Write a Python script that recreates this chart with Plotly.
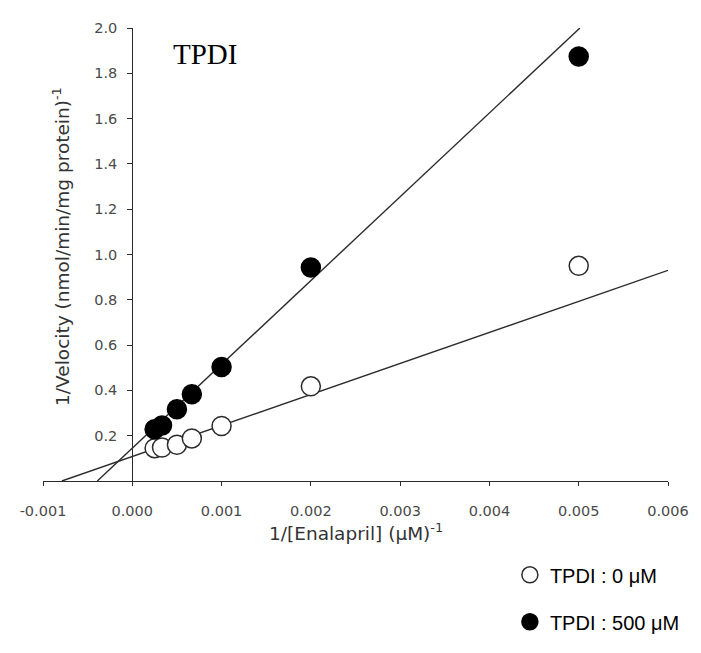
import plotly.graph_objects as go

# ---- data ----
inv_s = [0.00025, 0.000333, 0.0005, 0.000667, 0.001, 0.002, 0.005]   # 1/[Enalapril]
inv_v_0 = [0.145, 0.148, 0.160, 0.188, 0.243, 0.418, 0.950]        # TPDI 0 uM
inv_v_500 = [0.228, 0.245, 0.317, 0.383, 0.503, 0.943, 1.874]      # TPDI 500 uM
series_names = ["TPDI : 0 μM", "TPDI : 500 μM"]
fit_slope = [137.0, 370.0]
fit_intercept = [0.108, 0.145]

x_ticks = [-0.001, 0.0, 0.001, 0.002, 0.003, 0.004, 0.005, 0.006]
y_ticks = [0.2, 0.4, 0.6, 0.8, 1.0, 1.2, 1.4, 1.6, 1.8, 2.0]
x_range = [-0.001, 0.006]
y_range = [0.0, 2.0]

LINE = "#2b2b2b"
TICKFONT = dict(family="DejaVu Sans", size=14.5, color="#4a4a4a")

fig = go.Figure()

# regression lines, from x-intercept to the edge of the plot
for slope, icpt in zip(fit_slope, fit_intercept):
    x0 = -icpt / slope
    x1 = min(x_range[1], (y_range[1] - icpt) / slope)
    fig.add_trace(go.Scatter(
        x=[x0, x1], y=[icpt + slope * x0, icpt + slope * x1],
        mode="lines", line=dict(color=LINE, width=1.4),
        showlegend=False, hoverinfo="skip", cliponaxis=False))

fig.add_trace(go.Scatter(
    x=inv_s, y=inv_v_0, mode="markers", name=series_names[0],
    legendgroup="a",
    marker=dict(symbol="circle", size=19, color="white",
                line=dict(color=LINE, width=1.5)),
    cliponaxis=False))
fig.add_trace(go.Scatter(
    x=inv_s, y=inv_v_500, mode="markers", name=series_names[1],
    legendgroup="b",
    marker=dict(symbol="circle", size=19, color="black",
                line=dict(color="black", width=1.5)),
    cliponaxis=False))

# page body has an 8px default margin: size the figure to fit inside the window
fig.update_layout(
    width=693, height=645,
    margin=dict(l=28, r=25, t=20, b=165),
    paper_bgcolor="white", plot_bgcolor="white",
    showlegend=True,
    legend=dict(x=0.747, xanchor="left", y=-0.164, yanchor="top",
                traceorder="grouped", tracegroupgap=18,
                font=dict(family="Liberation Sans", size=20, color="black"),
                bgcolor="rgba(0,0,0,0)", itemsizing="trace"),
    xaxis=dict(range=x_range, domain=[0, 1], showgrid=False, zeroline=False,
               showline=True, linecolor=LINE, linewidth=1.3,
               ticks="outside", ticklen=4, tickcolor=LINE, tickwidth=1.2,
               tickvals=x_ticks, ticktext=[f"{v:.3f}" for v in x_ticks],
               tickfont=TICKFONT, ticklabelstandoff=12, anchor="y"),
    yaxis=dict(range=y_range, showgrid=False, zeroline=False,
               showline=True, linecolor=LINE, linewidth=1.3,
               ticks="outside", ticklen=5, tickcolor=LINE, tickwidth=1.2,
               tickvals=y_ticks, ticktext=[f"{v:.1f}" for v in y_ticks],
               tickfont=TICKFONT, ticklabelstandoff=7,
               anchor="free", position=(0 - x_range[0]) / (x_range[1] - x_range[0])),
    annotations=[
        dict(text="1/Velocity (nmol/min/mg protein)<sup>-1</sup>",
             x=0.029, y=0.517, xref="paper", yref="paper",
             xanchor="center", yanchor="middle", textangle=-90, showarrow=False,
             font=dict(family="DejaVu Sans", size=18.5, color="#333333")),
        dict(text="1/[Enalapril] (μM)<sup>-1</sup>",
             x=0.5, y=-0.112, xref="paper", yref="paper",
             xanchor="center", yanchor="middle", showarrow=False,
             font=dict(family="DejaVu Sans", size=18.5, color="#333333")),
        dict(text="TPDI", x=0.259, y=0.943, xref="paper", yref="paper",
             xanchor="center", yanchor="middle", showarrow=False,
             font=dict(family="Liberation Serif", size=29, color="black")),
    ],
)

fig.write_html("out.html")
